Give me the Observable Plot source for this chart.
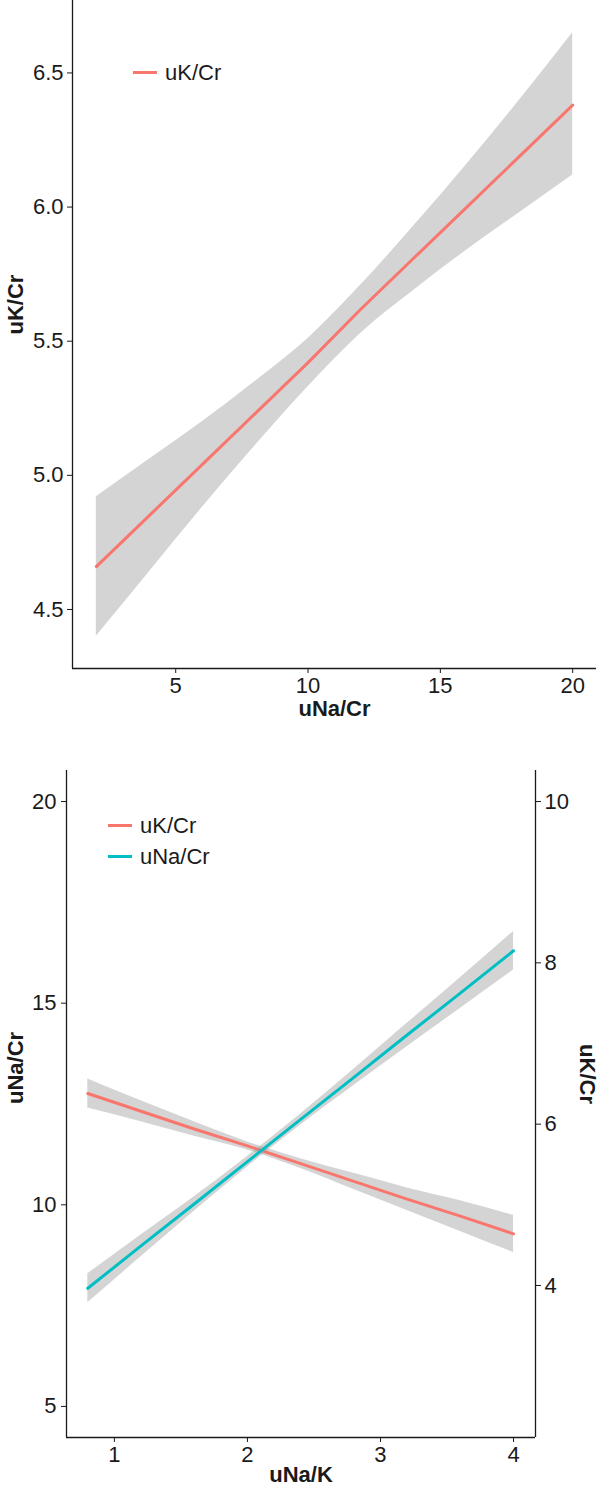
<!DOCTYPE html>
<html>
<head>
<meta charset="utf-8">
<script src="https://cdn.jsdelivr.net/npm/d3@7"></script>
<script src="https://cdn.jsdelivr.net/npm/@observablehq/plot@0.6"></script>
<style>
  html, body { margin: 0; padding: 0; background: #fff; }
  body { width: 599px; font-family: "Liberation Sans", Arial, sans-serif; }
  .panel { position: relative; width: 599px; }
  .legend { position: absolute; font-size: 22px; color: #1a1a1a; line-height: 31px; }
  .legend .row { display: flex; align-items: center; }
  .legend .sw { width: 24px; height: 3px; margin-right: 8px; }
</style>
</head>
<body>
<div id="top" class="panel"></div>
<div id="bottom" class="panel"></div>
<script>
// ---------- Data ----------
// Top panel: uK/Cr fitted against uNa/Cr, with confidence band
const topX     = [2, 4, 6, 8, 10, 12, 14, 16, 18, 20];
const topFit   = [4.66, 4.85, 5.04, 5.23, 5.42, 5.62, 5.81, 6.00, 6.19, 6.38];
const topLower = [4.40, 4.64, 4.88, 5.11, 5.33, 5.53, 5.69, 5.84, 5.98, 6.12];
const topUpper = [4.92, 5.06, 5.20, 5.35, 5.51, 5.71, 5.93, 6.16, 6.40, 6.65];

// Bottom panel: uNa/Cr (left axis) and uK/Cr (right axis) against uNa/K
const botX       = [0.8, 1.2, 1.6, 2.0, 2.4, 2.8, 3.2, 3.6, 4.0];
const botNaFit   = [7.93, 8.98, 10.02, 11.07, 12.12, 13.16, 14.21, 15.25, 16.30];
const botNaLower = [7.57, 8.71, 9.84, 10.94, 11.98, 12.96, 13.92, 14.87, 15.82];
const botNaUpper = [8.29, 9.25, 10.20, 11.20, 12.25, 13.36, 14.50, 15.63, 16.78];
const botKFit    = [6.38, 6.16, 5.94, 5.73, 5.51, 5.29, 5.07, 4.86, 4.64];
const botKLower  = [6.20, 6.03, 5.85, 5.68, 5.45, 5.19, 4.93, 4.67, 4.41];
const botKUpper  = [6.56, 6.29, 6.03, 5.78, 5.57, 5.39, 5.21, 5.05, 4.87];

// Ticks
const topXTicks = [5, 10, 15, 20];
const topYTicks = [4.5, 5.0, 5.5, 6.0, 6.5];
const botXTicks = [1, 2, 3, 4];
const botLeftTicks = [5, 10, 15, 20];
const botRightTicks = [4, 6, 8, 10];
// right axis (uK/Cr) = left axis (uNa/Cr) / kRatio
const kRatio = 2;

// Scale domains
const topXDomain = [1.1, 20.9];
const topYDomain = [4.28, 6.77];
const botXDomain = [0.64, 4.165];
const botYDomain = [4.23, 20.77];

const RED = "#F8766D", TEAL = "#00BFC4";
const BAND = "#999999", BAND_OP = 0.42;
const INK = "#1a1a1a";
const FONT = "'Liberation Sans', Arial, sans-serif";

// ---------- Top chart ----------
const topRows = topX.map((x, i) => ({x, fit: topFit[i], lo: topLower[i], hi: topUpper[i]}));

const topPlot = Plot.plot({
  width: 599, height: 745,
  marginLeft: 72, marginRight: 3, marginTop: 0, marginBottom: 77,
  style: {fontFamily: FONT, fontSize: "22px", color: INK, background: "#fff"},
  x: {domain: topXDomain},
  y: {domain: topYDomain},
  marks: [
    Plot.areaY(topRows, {x: "x", y1: "lo", y2: "hi", fill: BAND, fillOpacity: BAND_OP, curve: "monotone-x"}),
    Plot.line(topRows, {x: "x", y: "fit", stroke: RED, strokeWidth: 3}),
    Plot.axisX({ticks: topXTicks, tickSize: 5, tickPadding: 4, tickFormat: d3.format("d"), label: null, stroke: INK}),
    Plot.axisY({ticks: topYTicks, tickSize: 5, tickPadding: 4, tickFormat: d3.format(".1f"), label: null, stroke: INK}),
    Plot.ruleX([topXDomain[0]], {stroke: INK, strokeWidth: 1.3}),
    Plot.ruleY([topYDomain[0]], {stroke: INK, strokeWidth: 1.3}),
    Plot.text(["uNa/Cr"], {frameAnchor: "bottom", dy: 47, fontWeight: "bold", fontSize: 22, fill: INK}),
    Plot.text(["uK/Cr"], {frameAnchor: "left", dx: -57, rotate: -90, fontWeight: "bold", fontSize: 22, fill: INK})
  ]
});
document.getElementById("top").appendChild(topPlot);

const topLegend = document.createElement("div");
topLegend.className = "legend";
topLegend.style.left = "133px";
topLegend.style.top = "57px";
topLegend.innerHTML = `<div class="row"><span class="sw" style="background:${RED}"></span><span>uK/Cr</span></div>`;
document.getElementById("top").appendChild(topLegend);

// ---------- Bottom chart ----------
const naRows = botX.map((x, i) => ({x, fit: botNaFit[i], lo: botNaLower[i], hi: botNaUpper[i]}));
const kRows = botX.map((x, i) => ({x, fit: botKFit[i] * kRatio, lo: botKLower[i] * kRatio, hi: botKUpper[i] * kRatio}));

const botPlot = Plot.plot({
  width: 599, height: 752,
  marginLeft: 66, marginRight: 64, marginTop: 25, marginBottom: 60,
  style: {fontFamily: FONT, fontSize: "22px", color: INK, background: "#fff"},
  x: {domain: botXDomain},
  y: {domain: botYDomain},
  marks: [
    Plot.areaY(kRows, {x: "x", y1: "lo", y2: "hi", fill: BAND, fillOpacity: BAND_OP, curve: "monotone-x"}),
    Plot.line(kRows, {x: "x", y: "fit", stroke: RED, strokeWidth: 3}),
    Plot.areaY(naRows, {x: "x", y1: "lo", y2: "hi", fill: BAND, fillOpacity: BAND_OP, curve: "monotone-x"}),
    Plot.line(naRows, {x: "x", y: "fit", stroke: TEAL, strokeWidth: 3}),
    Plot.axisX({ticks: botXTicks, tickSize: 5, tickPadding: 4, tickFormat: d3.format("d"), label: null, stroke: INK}),
    Plot.axisY({ticks: botLeftTicks, tickSize: 5, tickPadding: 5, tickFormat: d3.format("d"), label: null, stroke: INK}),
    Plot.axisY({anchor: "right", ticks: botRightTicks.map(v => v * kRatio), tickFormat: d => String(d / kRatio),
                tickSize: 5, tickPadding: 4, label: null, stroke: INK}),
    Plot.ruleX([botXDomain[0], botXDomain[1]], {stroke: INK, strokeWidth: 1.3}),
    Plot.ruleY([botYDomain[0]], {stroke: INK, strokeWidth: 1.3}),
    Plot.text(["uNa/K"], {frameAnchor: "bottom", dy: 44, fontWeight: "bold", fontSize: 22, fill: INK}),
    Plot.text(["uNa/Cr"], {frameAnchor: "left", dx: -51, rotate: -90, fontWeight: "bold", fontSize: 22, fill: INK}),
    Plot.text(["uK/Cr"], {frameAnchor: "right", dx: 52, rotate: 90, fontWeight: "bold", fontSize: 22, fill: INK})
  ]
});
document.getElementById("bottom").appendChild(botPlot);

const botLegend = document.createElement("div");
botLegend.className = "legend";
botLegend.style.left = "108px";
botLegend.style.top = "65px";
botLegend.innerHTML =
  `<div class="row"><span class="sw" style="background:${RED}"></span><span>uK/Cr</span></div>` +
  `<div class="row"><span class="sw" style="background:${TEAL}"></span><span>uNa/Cr</span></div>`;
document.getElementById("bottom").appendChild(botLegend);
</script>
</body>
</html>
